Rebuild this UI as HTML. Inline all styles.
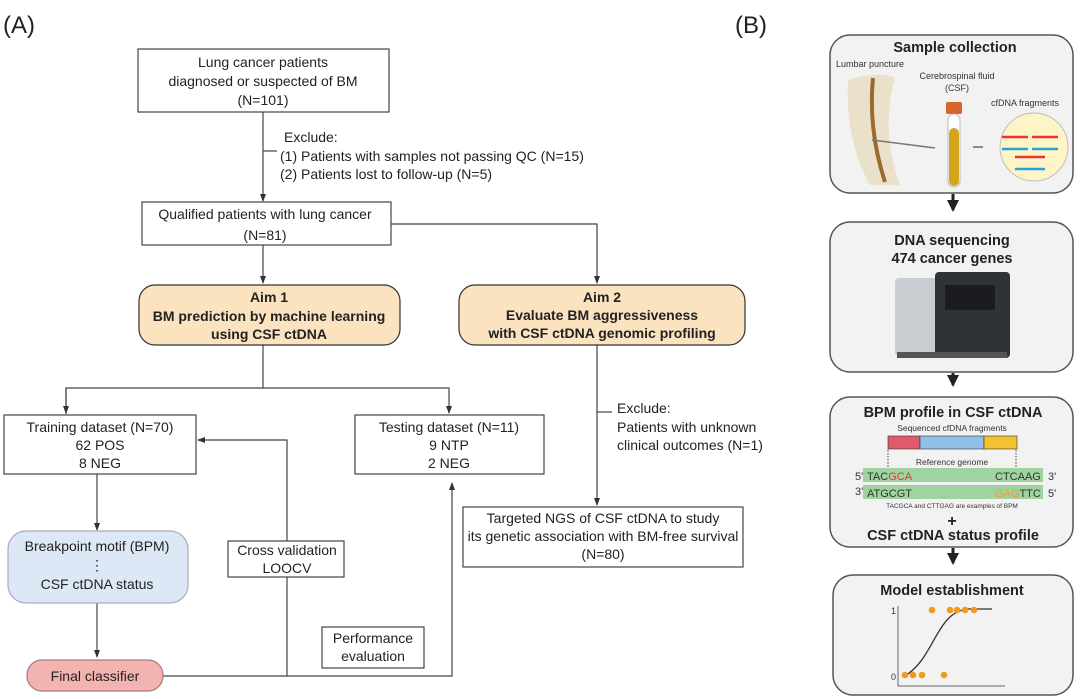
<!DOCTYPE html>
<html><head><meta charset="utf-8"><style>
html,body{margin:0;padding:0;background:#fff;}
svg{display:block;font-family:"Liberation Sans",Arial,sans-serif;}
</style></head><body>
<svg width="1080" height="699" viewBox="0 0 1080 699" xmlns="http://www.w3.org/2000/svg">
<defs>
<marker id="a" markerWidth="8" markerHeight="8" refX="7" refY="4" orient="auto" markerUnits="userSpaceOnUse"><path d="M0,1 L8,4 L0,7 Z" fill="#333"/></marker>
<marker id="b" markerWidth="12" markerHeight="12" refX="10" refY="6" orient="auto" markerUnits="userSpaceOnUse"><path d="M0,0 L12,6 L0,12 Z" fill="#222"/></marker>
</defs>
<g font-size="24" fill="#222"><text x="3" y="33">(A)</text><text x="735" y="33">(B)</text></g>

<g stroke="#444" stroke-width="1.2" fill="none">
<line x1="263" y1="112" x2="263" y2="201" marker-end="url(#a)"/>
<line x1="263" y1="151" x2="277" y2="151"/>
<polyline points="391,224 597,224 597,283" marker-end="url(#a)"/>
<line x1="263" y1="245" x2="263" y2="283" marker-end="url(#a)"/>
<line x1="263" y1="345" x2="263" y2="388"/>
<polyline points="66,414 66,388 449,388 449,413" marker-end="url(#a)"/>
<line x1="66" y1="388" x2="66" y2="413" marker-end="url(#a)"/>
<line x1="597" y1="345" x2="597" y2="505" marker-end="url(#a)"/>
<line x1="597" y1="412" x2="612" y2="412"/>
<line x1="97" y1="474" x2="97" y2="530" marker-end="url(#a)"/>
<line x1="97" y1="603" x2="97" y2="657" marker-end="url(#a)"/>
<polyline points="163,676 452,676 452,483" marker-end="url(#a)"/>
<polyline points="287,676 287,440 198,440" marker-end="url(#a)"/>
</g>

<g fill="#fff" stroke="#444" stroke-width="1.2">
<rect x="138" y="49" width="251" height="63"/>
<rect x="142" y="202" width="249" height="43"/>
<rect x="4" y="415" width="192" height="59"/>
<rect x="355" y="415" width="189" height="59"/>
<rect x="463" y="507" width="280" height="60"/>
<rect x="228" y="541" width="116" height="36"/>
<rect x="322" y="627" width="102" height="41"/>
<rect x="139" y="285" width="261" height="60" rx="16" fill="#fbe3bf" stroke="#333"/>
<rect x="459" y="285" width="286" height="60" rx="16" fill="#fbe3bf" stroke="#333"/>
<rect x="8" y="531" width="180" height="72" rx="18" fill="#dce8f6" stroke="#aab"/>
<rect x="27" y="660" width="136" height="31" rx="15" fill="#f3b3b0" stroke="#a77"/>
</g>

<g font-size="14" fill="#222" text-anchor="middle">
<text x="263" y="67">Lung cancer patients</text>
<text x="263" y="86">diagnosed or suspected of BM</text>
<text x="263" y="105">(N=101)</text>
<text x="265" y="219">Qualified patients with lung cancer</text>
<text x="265" y="240">(N=81)</text>
<text x="100" y="432">Training dataset (N=70)</text>
<text x="100" y="450">62 POS</text>
<text x="100" y="468">8 NEG</text>
<text x="449" y="432">Testing dataset (N=11)</text>
<text x="449" y="450">9 NTP</text>
<text x="449" y="468">2 NEG</text>
<text x="603" y="523">Targeted NGS of CSF ctDNA to study</text>
<text x="603" y="541">its genetic association with BM-free survival</text>
<text x="603" y="559">(N=80)</text>
<text x="287" y="555">Cross validation</text>
<text x="287" y="573">LOOCV</text>
<text x="373" y="643">Performance</text>
<text x="373" y="661">evaluation</text>
<text x="97" y="551">Breakpoint motif (BPM)</text>
<text x="97" y="570">⋮</text>
<text x="97" y="589">CSF ctDNA status</text>
<text x="95" y="681">Final classifier</text>
<g font-weight="bold" font-size="14">
<text x="269" y="302">Aim 1</text>
<text x="269" y="321">BM prediction by machine learning</text>
<text x="269" y="339">using CSF ctDNA</text>
<text x="602" y="302">Aim 2</text>
<text x="602" y="320">Evaluate BM aggressiveness</text>
<text x="602" y="338">with CSF ctDNA genomic profiling</text>
</g>
</g>
<g font-size="14" fill="#222">
<text x="284" y="142">Exclude:</text>
<text x="280" y="161">(1) Patients with samples not passing QC (N=15)</text>
<text x="280" y="179">(2) Patients lost to follow-up (N=5)</text>
<text x="617" y="413">Exclude:</text>
<text x="617" y="432">Patients with unknown</text>
<text x="617" y="450">clinical outcomes  (N=1)</text>
</g>

<!-- Right panel -->
<g fill="#f2f2f2" stroke="#555" stroke-width="1.5">
<rect x="830" y="35" width="243" height="158" rx="20"/>
<rect x="830" y="222" width="243" height="150" rx="20"/>
<rect x="830" y="397" width="243" height="150" rx="20"/>
<rect x="833" y="575" width="240" height="120" rx="20"/>
</g>
<g stroke="#222" stroke-width="3">
<line x1="953" y1="194" x2="953" y2="210" marker-end="url(#b)"/>
<line x1="953" y1="373" x2="953" y2="385" marker-end="url(#b)"/>
<line x1="953" y1="548" x2="953" y2="563" marker-end="url(#b)"/>
</g>
<g text-anchor="middle" font-weight="bold" fill="#222" font-size="14.5">
<text x="955" y="52">Sample collection</text>
<text x="952" y="245">DNA sequencing</text>
<text x="952" y="263">474 cancer genes</text>
<text x="953" y="417">BPM profile in CSF ctDNA</text>
<text x="953" y="540">CSF ctDNA status profile</text>
<text x="952" y="526" font-size="16">+</text>
<text x="952" y="595">Model establishment</text>
</g>
<!-- sample illus -->
<g font-size="9" fill="#333">
<text x="836" y="67">Lumbar puncture</text>
<text x="957" y="79" text-anchor="middle">Cerebrospinal fluid</text>
<text x="957" y="91" text-anchor="middle">(CSF)</text>
<text x="991" y="106">cfDNA fragments</text>
</g>
<path d="M848,80 Q880,70 895,78 Q880,130 900,185 L870,185 Q845,140 848,80Z" fill="#e8dcc0" opacity="0.8"/>
<path d="M873,78 Q868,130 885,182" stroke="#9a6b2a" stroke-width="4" fill="none"/>
<line x1="872" y1="140" x2="935" y2="148" stroke="#777" stroke-width="1.5"/>
<rect x="946" y="102" width="16" height="12" rx="2" fill="#d9642b"/>
<rect x="948" y="114" width="12" height="73" rx="6" fill="#fff" stroke="#bbb"/>
<rect x="949" y="128" width="10" height="58" rx="5" fill="#d4a51a"/>
<line x1="973" y1="147" x2="983" y2="147" stroke="#222"/>
<circle cx="1034" cy="147" r="34" fill="#fdf5c8" stroke="#bbb"/>
<g stroke-width="2.5"><line x1="1002" y1="137" x2="1028" y2="137" stroke="#e33"/><line x1="1002" y1="149" x2="1028" y2="149" stroke="#29a3d6"/>
<line x1="1032" y1="137" x2="1058" y2="137" stroke="#e33"/><line x1="1032" y1="149" x2="1058" y2="149" stroke="#29a3d6"/>
<line x1="1015" y1="157" x2="1045" y2="157" stroke="#e33"/><line x1="1015" y1="169" x2="1045" y2="169" stroke="#29a3d6"/></g>
<!-- sequencer -->
<rect x="895" y="278" width="55" height="78" rx="4" fill="#c9ccd0"/>
<rect x="935" y="272" width="75" height="86" rx="4" fill="#2f3237"/>
<rect x="945" y="285" width="50" height="25" fill="#1a1c20"/>
<rect x="897" y="352" width="110" height="6" fill="#555"/>
<!-- BPM illus -->
<text x="952" y="431" font-size="8.5" fill="#333" text-anchor="middle">Sequenced cfDNA fragments</text>
<rect x="888" y="436" width="32" height="13" fill="#e05a6a" stroke="#333" stroke-width="0.6"/>
<rect x="920" y="436" width="64" height="13" fill="#92bfe5" stroke="#333" stroke-width="0.6"/>
<rect x="984" y="436" width="33" height="13" fill="#f2c230" stroke="#333" stroke-width="0.6"/>
<g stroke="#444" stroke-dasharray="1.5,1.5"><line x1="888" y1="450" x2="888" y2="470"/><line x1="1016" y1="450" x2="1016" y2="470"/></g>
<text x="952" y="465" font-size="8.5" fill="#333" text-anchor="middle">Reference genome</text>
<rect x="863" y="468" width="180" height="14" fill="#9fd3a0"/>
<rect x="863" y="485" width="180" height="14" fill="#9fd3a0"/>
<g font-size="11" fill="#333">
<text x="855" y="480">5'</text><text x="867" y="480">TAC<tspan fill="#e33">GCA</tspan></text>
<text x="995" y="480">CTCAAG</text><text x="1048" y="480">3'</text>
<text x="855" y="495">3'</text><text x="867" y="497">ATGCGT</text>
<text x="995" y="497"><tspan fill="#e8a040">GAG</tspan>TTC</text><text x="1048" y="497">5'</text>
</g>
<text x="952" y="508" font-size="6.5" fill="#333" text-anchor="middle">TACGCA and CTTGAG are examples of BPM</text>
<!-- model -->
<g stroke="#666" stroke-width="1" fill="none"><polyline points="898,606 898,686 1005,686"/></g>
<text x="891" y="614" font-size="9" fill="#333">1</text>
<text x="891" y="680" font-size="9" fill="#333">0</text>
<path d="M903,677 C935,660 935,612 968,609 L992,609" stroke="#333" stroke-width="1.3" fill="none"/>
<g fill="#f39a1e">
<circle cx="932" cy="610" r="3.3"/><circle cx="950" cy="610" r="3.3"/><circle cx="957" cy="610" r="3.3"/><circle cx="965" cy="610" r="3.3"/><circle cx="974" cy="610" r="3.3"/>
<circle cx="905" cy="675" r="3.3"/><circle cx="913" cy="675" r="3.3"/><circle cx="922" cy="675" r="3.3"/><circle cx="944" cy="675" r="3.3"/>
</g>
</svg>
</body></html>
